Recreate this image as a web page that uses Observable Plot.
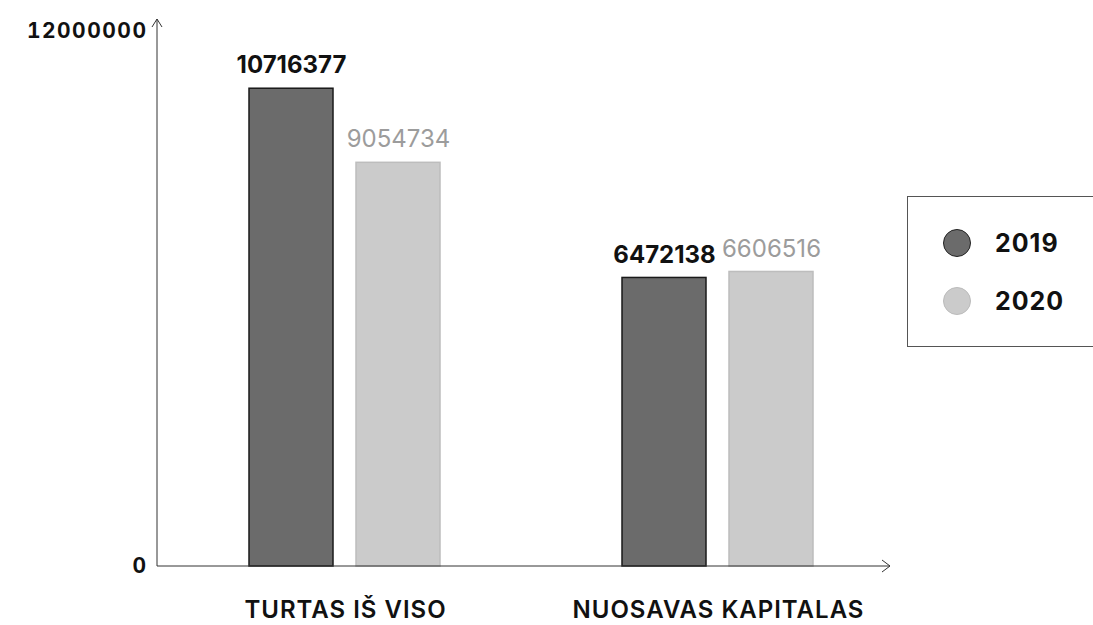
<!DOCTYPE html>
<html>
<head>
<meta charset="utf-8">
<script src="https://cdn.jsdelivr.net/npm/d3@7"></script>
<script src="https://cdn.jsdelivr.net/npm/@observablehq/plot@0.6"></script>
<style>
  html, body { margin: 0; padding: 0; background: #fff; }
  #wrap { position: relative; width: 1093px; height: 625px; overflow: hidden; font-family: Inter, "Open Sans", sans-serif; }
  #legend { position: absolute; left: 907px; top: 196px; width: 220px; height: 151px; border: 1px solid #555; box-sizing: border-box; }
  .li { position: absolute; left: 35px; display: flex; align-items: center; font-weight: 700; font-size: 25px; letter-spacing: 1px; color: #111; }
  .dot { width: 28px; height: 28px; border-radius: 50%; box-sizing: border-box; margin-right: 24px; }
  svg g[aria-label="fx-axis tick label"] text { letter-spacing: 1px; }
  svg g[aria-label="y-axis tick label"] text { letter-spacing: 1.5px; }
</style>
</head>
<body>
<div id="wrap"></div>
<script>
const categories = ["TURTAS IŠ VISO", "NUOSAVAS KAPITALAS"];
const years = ["2019", "2020"];
const values2019 = [10716377, 6472138];
const values2020 = [9054734, 6606516];
const yTicks = [0, 12000000];

const colors = {"2019": "#6b6b6b", "2020": "#cbcbcb"};
const strokes = {"2019": "#1a1a1a", "2020": "#bdbdbd"};

const data = [];
categories.forEach((c, i) => {
  data.push({cat: c, year: "2019", value: values2019[i]});
  data.push({cat: c, year: "2020", value: values2020[i]});
});

const W = 1093, H = 625, ML = 157;

function build(yDx) {
  return Plot.plot({
    width: W,
    height: H,
    marginLeft: ML,
    marginRight: 203,
    marginTop: 31,
    marginBottom: 59,
    style: {fontFamily: "Inter, 'Open Sans', sans-serif", background: "#fff"},
    fx: {domain: categories, paddingInner: 0.4, paddingOuter: 0.18, align: 0.556, label: null},
    x: {domain: years, paddingInner: 0.214, paddingOuter: 0.15, axis: null},
    y: {domain: [0, 12000000], axis: null},
    color: {domain: years, range: years.map(y => colors[y])},
    marks: [
      Plot.barY(data, {fx: "cat", x: "year", y: "value", fill: "year", stroke: d => strokes[d.year], strokeWidth: 1.5}),
      Plot.text(data.filter(d => d.year === "2019"), {fx: "cat", x: "year", y: "value", text: d => String(d.value), dy: -23, fontSize: 24, fontWeight: 700, fill: "#111"}),
      Plot.text(data.filter(d => d.year === "2020"), {fx: "cat", x: "year", y: "value", text: d => String(d.value), dy: -23, fontSize: 24, fontWeight: 400, fill: "#9c9c9c"}),
      Plot.axisFx({anchor: "bottom", tickSize: 0, tickPadding: 34, fontSize: 24, fontWeight: 600, fill: "#111", label: null}),
      Plot.axisY({anchor: "left", ticks: yTicks, tickSize: 0, tickPadding: 10, dx: yDx, tickFormat: d => String(d), fontSize: 21, fontWeight: 700, fill: "#111", label: null})
    ]
  });
}

// first pass: find where the left facet starts so the y labels sit at the frame's left edge
const probe = build(0);
const facetLeft = probe.scale("fx").apply(categories[0]);
const plot = build(-(facetLeft - ML));

// axis lines with arrowheads, positioned through the plot's own scales
const ys = plot.scale("y");
const svg = d3.select(plot);
const x0 = ML, xEnd = 890;
const y0 = ys.apply(0), yTop = ys.apply(12000000) - 12;
const g = svg.append("g").attr("fill", "none").attr("stroke", "#333").attr("stroke-width", 1);
g.append("line").attr("x1", x0).attr("x2", x0).attr("y1", y0).attr("y2", yTop);
g.append("path").attr("d", `M${x0-5},${yTop+8}L${x0},${yTop}L${x0+5},${yTop+8}`);
g.append("line").attr("x1", x0).attr("x2", xEnd).attr("y1", y0).attr("y2", y0);
g.append("path").attr("d", `M${xEnd-8},${y0-6}L${xEnd},${y0}L${xEnd-8},${y0+6}`);

const wrap = document.getElementById("wrap");
wrap.appendChild(plot);

const legend = document.createElement("div");
legend.id = "legend";
years.forEach((y, i) => {
  const item = document.createElement("div");
  item.className = "li";
  item.style.top = (31 + i * 58) + "px";
  const dot = document.createElement("div");
  dot.className = "dot";
  dot.style.background = colors[y];
  dot.style.border = "1.5px solid " + (y === "2019" ? "#222" : "#bbb");
  const t = document.createElement("span");
  t.textContent = y;
  item.appendChild(dot);
  item.appendChild(t);
  legend.appendChild(item);
});
wrap.appendChild(legend);
</script>
</body>
</html>
